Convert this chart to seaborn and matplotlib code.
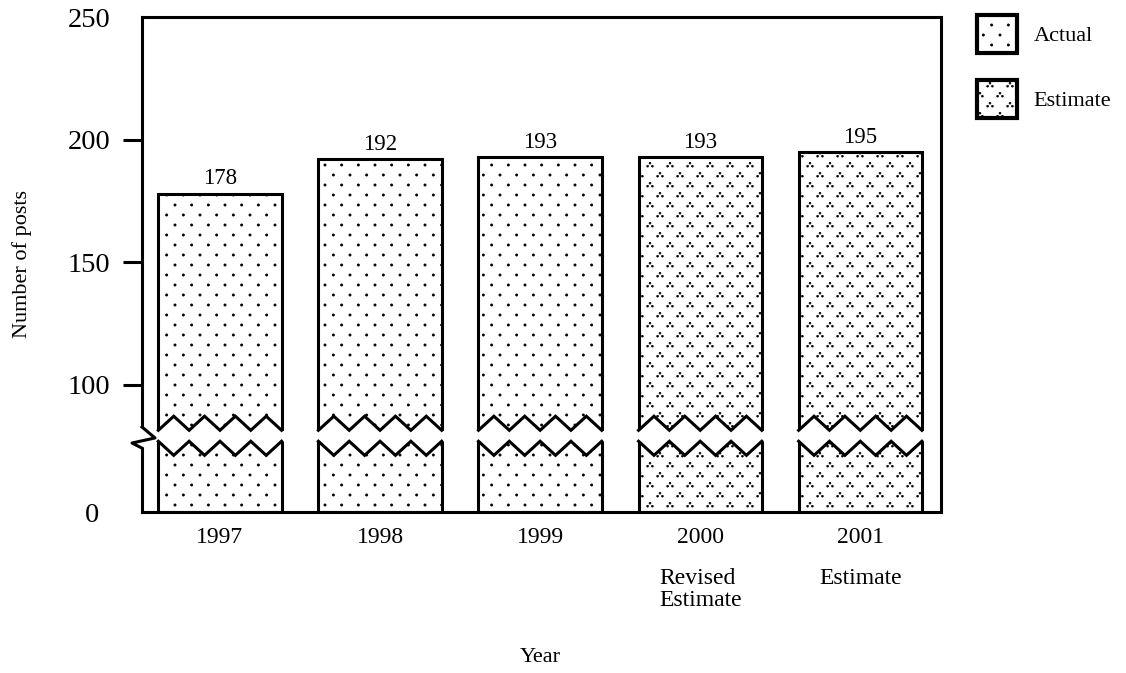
import numpy as np
import matplotlib
matplotlib.use("Agg")
import matplotlib.pyplot as plt
import matplotlib.hatch as mhatch
import matplotlib.transforms as mtransforms
from matplotlib.patches import Patch
from matplotlib.path import Path
import seaborn as sns

# Data
years = ["1997", "1998", "1999", "2000", "2001"]
posts = [178, 192, 193, 193, 195]
kinds = ["Actual", "Actual", "Actual", "Estimate", "Estimate"]
notes = ["", "", "", "Revised\nEstimate", "Estimate"]
yticks = [0, 100, 150, 200, 250]

hatch_of = {"Actual": ".", "Estimate": "*"}

plt.rcParams["font.family"] = ["Liberation Serif", "DejaVu Serif"]
plt.rcParams["hatch.linewidth"] = 0.5
for key in ["text.color", "axes.labelcolor", "xtick.color", "ytick.color", "axes.edgecolor"]:
    plt.rcParams[key] = "black"


# Dot hatches: '.' = staggered dots, '*' = staggered clusters of three dots
circle = Path.unit_circle()


def dot_tile(ncols, nrows, cluster, radius):
    verts, codes = [], []
    for r in range(nrows):
        y = (r + 0.5) / nrows
        shift = 0 if r % 2 == 0 else 0.5 / ncols
        for c in range(ncols):
            x = c / ncols + shift
            for ox, oy in cluster:
                for dx in (-1, 0, 1):
                    for dy in (-1, 0, 1):
                        verts.append(circle.vertices * radius + (x + ox + dx, y + oy + dy))
                        codes.append(circle.codes)
    return np.concatenate(verts), np.concatenate(codes)


dot_patterns = {
    ".": dot_tile(6, 10, [(0, 0)], 0.011),
    "*": dot_tile(5, 10, [(0, 0.018), (-0.024, -0.012), (0.024, -0.012)], 0.009),
}


class DotHatch(mhatch.HatchPatternBase):
    def __init__(self, hatch, density):
        parts = [dot_patterns[ch] for ch in dot_patterns if ch in hatch]
        if parts:
            self.verts = np.concatenate([p[0] for p in parts])
            self.codes = np.concatenate([p[1] for p in parts])
        else:
            self.verts, self.codes = np.empty((0, 2)), np.empty(0)
        self.num_vertices = len(self.verts)

    def set_vertices_and_codes(self, vertices, codes):
        vertices[:] = self.verts
        codes[:] = self.codes


mhatch._hatch_types[:] = [DotHatch]


# Broken y axis: below 100 the scale is squeezed
K = 0.518


def fwd(y):
    y = np.asarray(y, dtype=float)
    return np.where(y < 100, y * K, y - 100 + 100 * K)


def inv(f):
    f = np.asarray(f, dtype=float)
    return np.where(f < 100 * K, f / K, f + 100 - 100 * K)


fig = plt.figure(figsize=(11.26, 6.73), dpi=100)
ax = fig.add_axes([0.1261, 0.2392, 0.71, 0.7355])

width = 0.77
sns.barplot(x=years, y=posts, color="white", edgecolor="black", linewidth=2.2,
            width=width, saturation=1, errorbar=None, ax=ax)
for bar, kind in zip(ax.patches, kinds):
    bar.set_hatch(hatch_of[kind])
    bar.set_facecolor("white")

ax.set_yscale("function", functions=(fwd, inv))
ax.set_ylim(0, 250)
ax.set_xlim(-0.487, 4.507)

ax.bar_label(ax.containers[0], padding=3, fontsize=16.5)

# zigzag break through every bar
mid, inner, outer = 60, 4.3, 15.4
for i in range(len(years)):
    xs = np.linspace(i - width / 2, i + width / 2, 9)
    odd = np.arange(9) % 2 == 1
    top = np.where(odd, mid + outer, mid + inner)
    bot = np.where(odd, mid - outer, mid - inner)
    xe = np.concatenate([[xs[0] - 0.03], xs, [xs[-1] + 0.03]])
    te = np.concatenate([[top[0]], top, [top[-1]]])
    be = np.concatenate([[bot[0]], bot, [bot[-1]]])
    ax.fill_between(xe, be, te, color="white", lw=0, zorder=3)
    ax.plot(xs, top, color="black", lw=2.2, solid_joinstyle="miter", zorder=4)
    ax.plot(xs, bot, color="black", lw=2.2, solid_joinstyle="miter", zorder=4)

# break mark on the y axis
trans = mtransforms.blended_transform_factory(ax.transAxes, ax.transData)
ax.plot([0, 0], [50.3, 66.9], transform=trans, color="white", lw=4,
        solid_capstyle="butt", clip_on=False, zorder=5)
ax.plot([0, 0.0163, -0.0125, 0], [66.9, 58.3, 54.3, 50.3], transform=trans,
        color="black", lw=2.2, clip_on=False, zorder=6)

# axes styling
for side in ["left", "right", "top", "bottom"]:
    ax.spines[side].set_linewidth(2.2)
    ax.spines[side].set_visible(True)
ax.set_yticks(yticks, [str(t) for t in yticks])
ax.tick_params(axis="y", direction="out", length=14, width=2.2, pad=9, labelsize=20.5)
ax.set_xticks(range(len(years)), years)
ax.tick_params(axis="x", length=0, pad=11, labelsize=17)
ax.set_xlabel("")
ax.set_ylabel("")
yt = ax.yaxis.get_major_ticks()
yt[0].tick1line.set_visible(False)
yt[-1].tick1line.set_visible(False)
yt[0].set_pad(17)

for i, note in enumerate(notes):
    if note:
        ax.annotate(note, xy=(i, 0), xycoords=("data", "axes fraction"),
                    xytext=(0, -40), textcoords="offset points", ha="center", va="top",
                    multialignment="left", linespacing=1.08, fontsize=17)

fig.text(22 / 1126, 0.607, "Number of posts", rotation=90, ha="center", va="center", fontsize=16)
fig.text(540 / 1126, 0.023, "Year", ha="center", va="center", fontsize=16)

handles = [Patch(facecolor="white", edgecolor="black", lw=3, hatch=hatch_of[k], label=k)
           for k in ["Actual", "Estimate"]]
fig.legend(handles=handles, loc="upper left", bbox_to_anchor=(977 / 1126, 1 - 15 / 673),
           frameon=False, handlelength=1.8, handleheight=2.25, labelspacing=1.2,
           handletextpad=0.75, borderpad=0, borderaxespad=0, fontsize=16)

fig.savefig("out.png", dpi=100)
